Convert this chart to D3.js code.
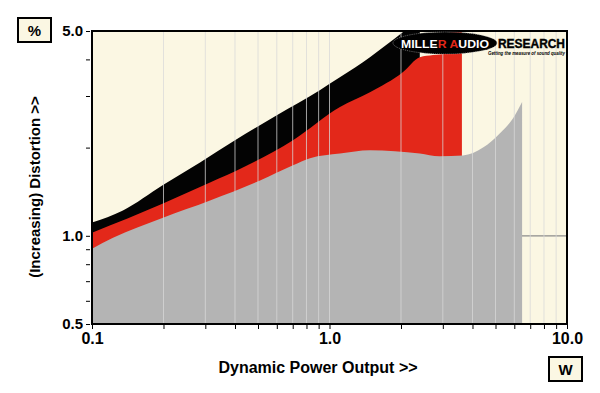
<!DOCTYPE html>
<html>
<head>
<meta charset="utf-8">
<script src="https://cdn.jsdelivr.net/npm/d3@7"></script>
<style>
	body { margin: 0; background: #fff; }
	text { font-family: "Liberation Sans", Arial, sans-serif; }
</style>
</head>
<body>
<div id="chart-area"></div>
<script>

// Highest distortion trace (black)
let blackPower = [0.1, 0.135, 0.199, 0.285, 0.40, 0.60, 0.91, 1.11, 1.48, 2.04, 2.40];
let blackDist = [1.11, 1.22, 1.49, 1.78, 2.12, 2.58, 3.14, 3.48, 4.07, 4.96, 5.5];

// Middle trace (red)
let redPower = [0.1, 0.199, 0.314, 0.432, 0.702, 1.107, 1.48, 2.04, 2.40, 2.73, 3.10, 3.30, 3.61];
let redDist = [1.025, 1.29, 1.52, 1.71, 2.12, 2.75, 3.09, 3.62, 4.07, 4.14, 4.2, 5.5, 5.5];

// Lowest trace (grey)
let greyPower = [0.1, 0.1226, 0.199, 0.314, 0.51, 0.702, 0.828, 1.107, 1.48, 2.40, 2.9, 3.65, 4.43, 5.22, 5.93, 6.47];
let greyDist = [0.904, 0.985, 1.153, 1.32, 1.545, 1.74, 1.84, 1.91, 1.96, 1.91, 1.87, 1.88, 2.00, 2.24, 2.52, 2.86];

// Axis ticks and labels
let xMajor = [0.1, 1, 10];
let xMajorLabels = ["0.1", "1.0", "10.0"];
let xMinor = [0.2, 0.3, 0.4, 0.5, 0.6, 0.7, 0.8, 0.9, 2, 3, 4, 5, 6, 7, 8, 9];
let yMajor = [0.5, 1, 5];
let yMajorLabels = ["0.5", "1.0", "5.0"];
let yMinor = [0.6, 0.7, 0.8, 0.9, 2, 3, 4];

let width = 600, height = 393;
let plot = {left: 92, right: 567, top: 31, bottom: 324};

let svg = d3.select("#chart-area")
	.append("svg")
	.attr("width", width)
	.attr("height", height);

// Scales
let xScale = d3.scaleLog()
	.domain([0.1, 10])
	.range([plot.left, plot.right]);

let yScale = d3.scaleLog()
	.domain([0.5, 5])
	.range([plot.bottom, plot.top]);

// Plot background
svg.append("rect")
	.attr("x", plot.left)
	.attr("y", plot.top)
	.attr("width", plot.right - plot.left)
	.attr("height", plot.bottom - plot.top)
	.attr("fill", "#fbf7e3");

svg.append("clipPath")
	.attr("id", "plot-clip")
	.append("rect")
	.attr("x", plot.left)
	.attr("y", plot.top)
	.attr("width", plot.right - plot.left)
	.attr("height", plot.bottom - plot.top);

let plotGroup = svg.append("g")
	.attr("clip-path", "url(#plot-clip)");

// Horizontal 1.0 line sits under the areas
plotGroup.append("line")
	.attr("x1", plot.left)
	.attr("x2", plot.right)
	.attr("y1", yScale(1))
	.attr("y2", yScale(1))
	.attr("stroke", "#8c8c8c")
	.attr("stroke-width", 1.2);

// Area generator from the bottom of the plot
let areaGen = d3.area()
	.x(d => xScale(d[0]))
	.y0(yScale(0.5))
	.y1(d => yScale(d[1]))
	.curve(d3.curveMonotoneX);

let series = [
	{power: blackPower, dist: blackDist, color: "#030303"},
	{power: redPower, dist: redDist, color: "#e3281a"},
	{power: greyPower, dist: greyDist, color: "#b4b4b4"}
];

series.forEach(s => {
	plotGroup.append("path")
		.datum(s.power.map((p, i) => [p, s.dist[i]]))
		.attr("d", areaGen)
		.attr("fill", s.color);
});

// Vertical gridlines drawn over the areas
plotGroup.selectAll(".grid-x")
	.data(xMinor.concat([1]))
	.enter()
	.append("line")
	.attr("class", "grid-x")
	.attr("x1", d => xScale(d))
	.attr("x2", d => xScale(d))
	.attr("y1", plot.top)
	.attr("y2", plot.bottom)
	.attr("stroke", "#d8d8d8")
	.attr("stroke-opacity", 0.75)
	.attr("stroke-width", 1);

// Plot border
svg.append("rect")
	.attr("x", plot.left)
	.attr("y", plot.top)
	.attr("width", plot.right - plot.left)
	.attr("height", plot.bottom - plot.top)
	.attr("fill", "none")
	.attr("stroke", "#000")
	.attr("stroke-width", 2);

// X axis
let xAxis = d3.axisBottom(xScale)
	.tickValues(xMajor.concat(xMinor))
	.tickSize(4)
	.tickPadding(4)
	.tickFormat(d => {
		let i = xMajor.indexOf(d);
		return i >= 0 ? xMajorLabels[i] : "";
	});

let xAxisGroup = svg.append("g")
	.attr("class", "axis x-axis")
	.attr("transform", "translate(0," + (plot.bottom + 1) + ")")
	.call(xAxis);

xAxisGroup.select(".domain").remove();
xAxisGroup.selectAll("text")
	.attr("font-size", "16px")
	.attr("font-weight", "bold")
	.attr("fill", "#000");

// Y axis
let yAxis = d3.axisLeft(yScale)
	.tickValues(yMajor.concat(yMinor))
	.tickSize(4)
	.tickPadding(3)
	.tickFormat(d => {
		let i = yMajor.indexOf(d);
		return i >= 0 ? yMajorLabels[i] : "";
	});

let yAxisGroup = svg.append("g")
	.attr("class", "axis y-axis")
	.attr("transform", "translate(" + (plot.left - 2) + ",0)")
	.call(yAxis);

yAxisGroup.select(".domain").remove();
yAxisGroup.selectAll("text")
	.attr("font-size", "15px")
	.attr("font-weight", "bold")
	.attr("fill", "#000");

// Axis titles
svg.append("text")
	.attr("x", 318)
	.attr("y", 373)
	.attr("text-anchor", "middle")
	.attr("font-size", "16px")
	.attr("font-weight", "bold")
	.text("Dynamic Power Output >>");

svg.append("text")
	.attr("transform", "translate(40,187) rotate(-90)")
	.attr("text-anchor", "middle")
	.attr("font-size", "15px")
	.attr("font-weight", "bold")
	.text("(Increasing) Distortion >>");

// Unit boxes
let units = [
	{label: "%", x: 18, y: 18, w: 33, h: 24},
	{label: "W", x: 549, y: 357, w: 33, h: 24}
];

units.forEach(u => {
	svg.append("rect")
		.attr("x", u.x)
		.attr("y", u.y)
		.attr("width", u.w)
		.attr("height", u.h)
		.attr("fill", "#fbf7e3")
		.attr("stroke", "#000")
		.attr("stroke-width", 2);
	svg.append("text")
		.attr("x", u.x + u.w / 2)
		.attr("y", u.y + u.h / 2 + 5.5)
		.attr("text-anchor", "middle")
		.attr("font-size", "15px")
		.attr("font-weight", "bold")
		.text(u.label);
});

// Logo
let logo = svg.append("g");

logo.append("ellipse")
	.attr("cx", 445)
	.attr("cy", 43)
	.attr("rx", 52)
	.attr("ry", 11)
	.attr("fill", "#000")
	.attr("stroke", "#bbb")
	.attr("stroke-width", 0.6)
	.attr("stroke-dasharray", "1,1");

let logoText = logo.append("text")
	.attr("x", 401)
	.attr("y", 47.5)
	.attr("font-size", "11.5px")
	.attr("font-weight", "bold")
	.attr("font-family", "'DejaVu Sans', sans-serif")
	.attr("textLength", 88)
	.attr("lengthAdjust", "spacingAndGlyphs");

logoText.append("tspan").attr("fill", "#fff").text("MILLE");
logoText.append("tspan").attr("fill", "#e3281a").text("R A");
logoText.append("tspan").attr("fill", "#fff").text("UDIO");

logo.append("text")
	.attr("x", 498)
	.attr("y", 48)
	.attr("font-size", "12.5px")
	.attr("font-weight", "bold")
	.attr("font-family", "'DejaVu Sans', sans-serif")
	.attr("textLength", 67)
	.attr("lengthAdjust", "spacingAndGlyphs")
	.attr("fill", "#000")
	.attr("stroke", "#000")
	.attr("stroke-width", 0.4)
	.text("RESEARCH");

logo.append("text")
	.attr("x", 488)
	.attr("y", 55)
	.attr("font-size", "5px")
	.attr("font-weight", "bold")
	.attr("font-style", "italic")
	.attr("textLength", 77)
	.attr("lengthAdjust", "spacingAndGlyphs")
	.attr("fill", "#000")
	.text("Getting the measure of sound quality");

</script>
</body>
</html>
